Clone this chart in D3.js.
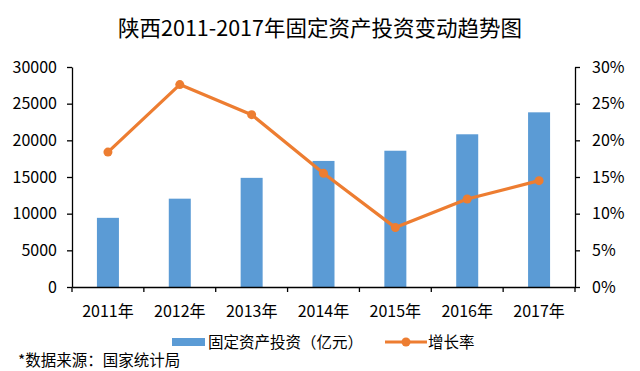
<!DOCTYPE html>
<html lang="zh">
<head>
<meta charset="UTF-8">
<title>陕西2011-2017年固定资产投资变动趋势图</title>
<style>
  body { margin: 0; background: #fff; }
  svg text { font-family: "Noto Sans CJK SC", "Noto Sans", sans-serif; fill: #000; }
  .axis path, .axis line { stroke: #000; stroke-width: 1.3; }
</style>
</head>
<body>
<svg id="chart" width="640" height="371"></svg>
<script src="https://d3js.org/d3.v7.min.js"></script>
<script>
// data
var years = ["2011年", "2012年", "2013年", "2014年", "2015年", "2016年", "2017年"];
var investment = [9431, 12045, 14884, 17191, 18582, 20825, 23819];
var growth = [18.4, 27.6, 23.5, 15.5, 8.1, 12.0, 14.5];
var leftTicks = [0, 5000, 10000, 15000, 20000, 25000, 30000];
var rightTicks = [0, 5, 10, 15, 20, 25, 30];

var svg = d3.select("#chart");
var plotL = 72, plotR = 575, plotT = 67, plotB = 287;

var x = d3.scaleBand().domain(years).range([plotL, plotR]).padding(0);
var yL = d3.scaleLinear().domain([0, 30000]).range([plotB, plotT]);
var yR = d3.scaleLinear().domain([0, 30]).range([plotB, plotT]);

// title
svg.append("text")
    .attr("x", 320).attr("y", 36)
    .attr("text-anchor", "middle")
    .style("font-size", "21.5px")
    .text("陕西2011-2017年固定资产投资变动趋势图");

// bars
var barW = 22;
svg.selectAll("rect.bar")
    .data(investment)
    .enter().append("rect")
    .attr("class", "bar")
    .attr("x", (d, i) => x(years[i]) + x.bandwidth() / 2 - barW / 2)
    .attr("y", d => yL(d))
    .attr("width", barW)
    .attr("height", d => plotB - yL(d))
    .attr("fill", "#5b9bd5");

// left axis
svg.append("g")
    .attr("class", "axis")
    .attr("transform", "translate(" + plotL + ",0)")
    .call(d3.axisLeft(yL).tickValues(leftTicks).tickSize(5).tickPadding(10).tickSizeOuter(0)
        .tickFormat(d3.format("d")))
    .selectAll("text").style("font-size", "16px");

// right axis
svg.append("g")
    .attr("class", "axis")
    .attr("transform", "translate(" + plotR + ",0)")
    .call(d3.axisRight(yR).tickValues(rightTicks).tickSize(5).tickPadding(12).tickSizeOuter(0)
        .tickFormat(d => d + "%"))
    .selectAll("text").style("font-size", "16px");

// bottom axis: labels at band centres, ticks at band boundaries
var xAxis = svg.append("g")
    .attr("class", "axis")
    .attr("transform", "translate(0," + plotB + ")")
    .call(d3.axisBottom(x).tickSize(0).tickPadding(19).tickSizeOuter(0));
xAxis.selectAll("text").style("font-size", "16px");
var bounds = years.map(c => x(c)).concat([plotR]);
xAxis.selectAll("line.bnd")
    .data(bounds)
    .enter().append("line")
    .attr("class", "bnd")
    .attr("x1", d => d).attr("x2", d => d)
    .attr("y1", 0).attr("y2", 5)
    .attr("stroke", "#000").attr("stroke-width", 1.3);

// growth line
var line = d3.line()
    .x((d, i) => x(years[i]) + x.bandwidth() / 2)
    .y(d => yR(d));
svg.append("path")
    .datum(growth)
    .attr("d", line)
    .attr("fill", "none")
    .attr("stroke", "#ed7d31")
    .attr("stroke-width", 3.2)
    .attr("stroke-linejoin", "round");
svg.selectAll("circle.pt")
    .data(growth)
    .enter().append("circle")
    .attr("class", "pt")
    .attr("cx", (d, i) => x(years[i]) + x.bandwidth() / 2)
    .attr("cy", d => yR(d))
    .attr("r", 4.5)
    .attr("fill", "#ed7d31");

// legend
var lg = svg.append("g");
lg.append("rect").attr("x", 172).attr("y", 338).attr("width", 33).attr("height", 8).attr("fill", "#5b9bd5");
lg.append("text").attr("x", 208).attr("y", 348).style("font-size", "15.5px").text("固定资产投资（亿元）");
lg.append("line").attr("x1", 385).attr("x2", 427).attr("y1", 342).attr("y2", 342)
    .attr("stroke", "#ed7d31").attr("stroke-width", 3.2);
lg.append("circle").attr("cx", 406).attr("cy", 342).attr("r", 4.5).attr("fill", "#ed7d31");
lg.append("text").attr("x", 428).attr("y", 348).style("font-size", "15.5px").text("增长率");

// source
svg.append("text")
    .attr("x", 18).attr("y", 366)
    .style("font-size", "15.5px")
    .text("*数据来源：国家统计局");
</script>
</body>
</html>
